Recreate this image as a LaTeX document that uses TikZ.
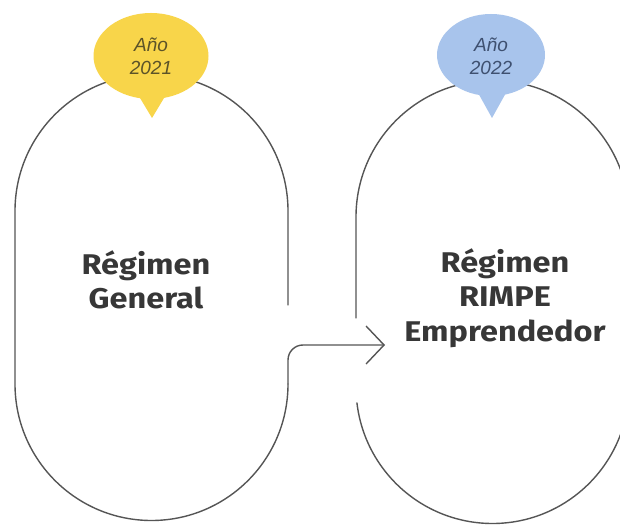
\documentclass[tikz,border=0pt]{standalone}
\usepackage{fontspec}
\setmainfont{Fira Sans}
\newfontfamily\widebold{Fira Sans}[FakeStretch=1.14]
\newfontfamily\yearfont{Liberation Sans}
\usetikzlibrary{arrows.meta}
\definecolor{linegray}{RGB}{85,85,85}
\definecolor{textgray}{RGB}{55,55,55}
\definecolor{bubyellow}{RGB}{248,213,74}
\definecolor{bubblue}{RGB}{168,196,236}
\definecolor{yeltext}{RGB}{92,83,40}
\definecolor{bluetext}{RGB}{62,80,112}
\tikzset{
  outline/.style={draw=linegray, line width=1.4pt, line cap=round, line join=round},
  maintext/.style={align=center, text=textgray, font=\widebold\bfseries\fontsize{28.5}{34.5}\selectfont, inner sep=0pt},
  yeartext/.style={align=center, font=\yearfont\itshape\fontsize{19}{23}\selectfont, inner sep=0pt},
}
\begin{document}
\begin{tikzpicture}[x=1pt,y=1pt]
\useasboundingbox (0,0) rectangle (620,525);
\fill[white] (0,0) rectangle (620,525);
\clip (0,0) rectangle (620,525);
% left capsule
\coordinate (lgap) at (288,220);
\coordinate (lbot) at (288,141);
\coordinate (tip) at (385,180);
\draw[outline] (lgap) -- (288,314) arc[start angle=0, end angle=180, radius=136.5]
  -- (15,141) arc[start angle=180, end angle=360, radius=136.5];
% right capsule
\coordinate (rgap) at (356,207);
\draw[outline] (rgap) -- (356,308) arc[start angle=180, end angle=0, radius=136.5]
  -- (629,138) arc[start angle=0, end angle=-173.3, radius=136.5];
% arrow
\draw[outline, rounded corners=15, -{Straight Barb[length=18pt, width=38pt]}] (lbot) -- (288,180) -- (tip);
% bubbles
\fill[bubyellow] (151,469) ellipse[x radius=57.5, y radius=43];
\fill[bubyellow] (137,432) -- (152,407) -- (167,432) -- cycle;
\fill[bubblue] (491,470) ellipse[x radius=54, y radius=41];
\fill[bubblue] (477,434) -- (492,407) -- (507,434) -- cycle;
\node[yeartext, text=yeltext] (y21) at (151,469) {Año\\2021};
\node[yeartext, text=bluetext] (y22) at (491,469) {Año\\2022};
% main texts
\node[maintext] (gen) at (146,245) {Régimen\\General};
\node[maintext] (rimpe) at (505,227) {Régimen\\RIMPE\\Emprendedor};
\end{tikzpicture}
\end{document}
